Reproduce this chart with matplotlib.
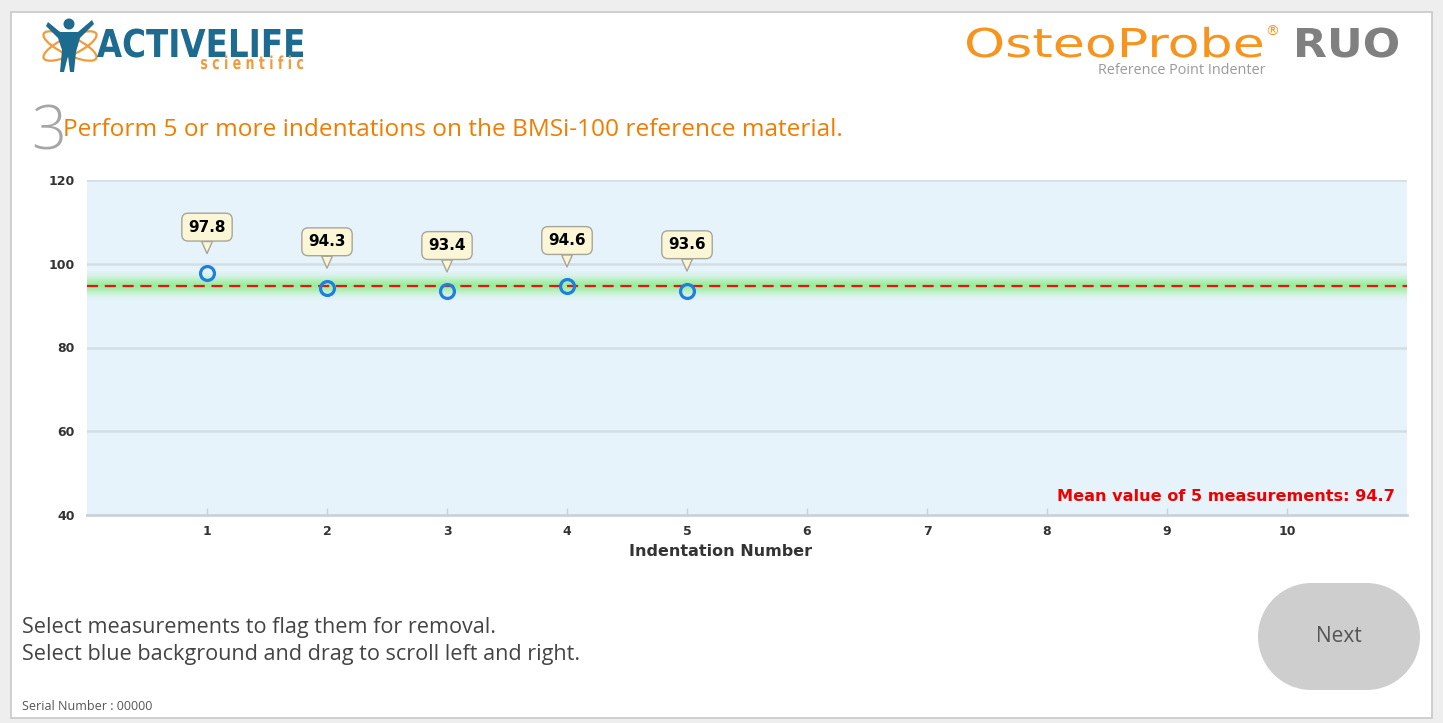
import numpy as np
import matplotlib
matplotlib.use("Agg")
import matplotlib.pyplot as plt
from matplotlib.patches import Ellipse, Circle, Polygon, Rectangle, PathPatch
from matplotlib.textpath import TextPath
from matplotlib.font_manager import FontProperties
from matplotlib.transforms import Affine2D

indentations = [1, 2, 3, 4, 5]
values = [97.8, 94.3, 93.4, 94.6, 93.6]
mean_value = 94.7
x_ticks = list(range(1, 11))
y_ticks = [40, 60, 80, 100, 120]

W, H = 1443, 723
fig = plt.figure(figsize=(W / 100, H / 100), dpi=100)
fig.patch.set_facecolor("#EEEEEE")

# full-figure axes in pixel coords for the screen furniture
bg = fig.add_axes([0, 0, 1, 1])
bg.set_xlim(0, W)
bg.set_ylim(H, 0)
bg.axis("off")
bg.add_patch(Rectangle((11, 12), 1421, 706, fc="white", ec="#C8C8C8", lw=1.2))


def fit_text(s, x0, x1, base, cap_h, color, **fp):
    # logo lettering stretched to fill the box it takes on screen
    prop = FontProperties(**fp)
    tp = TextPath((0, 0), s, size=100, prop=prop)
    bb = tp.get_extents()
    hh = TextPath((0, 0), "H", size=100, prop=prop).get_extents().height
    tr = Affine2D().translate(-bb.x0, 0).scale((x1 - x0) / bb.width, -cap_h / hh)
    tr = tr.translate(x0, base)
    bg.add_patch(PathPatch(tr.transform_path(tp), fc=color, ec="none"))


# activelife logo (rough)
for ang in (25, -25):
    bg.add_patch(Ellipse((70, 46), 58, 18, angle=ang, fc="none", ec="#F39A3A", lw=1.6))
bg.add_patch(Circle((69, 24), 5.5, fc="#1D6B8F", ec="none"))
bg.add_patch(Polygon([(48, 22), (60, 32), (78, 32), (92, 20), (94, 24), (80, 38),
                      (76, 52), (74, 72), (70, 72), (68, 56), (64, 72), (60, 72),
                      (62, 50), (58, 38), (46, 26)], closed=True, fc="#1D6B8F", ec="none"))
fit_text("ACTIVELIFE", 97, 303, 57, 28, "#1D6B8F", family="DejaVu Sans", weight="heavy")
fit_text("s c i e n t i f i c", 201, 303, 69, 13, "#F39A3A", family="DejaVu Sans",
         weight="bold")

# osteoprobe logo
fit_text("OsteoProbe", 967, 1262, 57, 29, "#F7941D", family="DejaVu Sans")
bg.text(1272, 32, "®", fontsize=10, color="#F7941D", ha="center", va="center",
        family="DejaVu Sans")
fit_text("RUO", 1297, 1398, 57, 29, "#808080", family="DejaVu Sans", weight="bold")
bg.text(1182, 70, "Reference Point Indenter", fontsize=10.4, color="#9A9A9A",
        ha="center", va="center", family="Open Sans")

# step title
bg.text(31, 150, "3", fontsize=44, fontweight="light", color="#A6A6A6", ha="left",
        va="baseline", family="Open Sans")
bg.text(63, 136, "Perform 5 or more indentations on the BMSi-100 reference material.",
        fontsize=17.6, color="#F07D00", ha="left", va="baseline", family="Open Sans")

# bottom instructions
bg.text(22, 633, "Select measurements to flag them for removal.", fontsize=15.6,
        color="#444444", ha="left", va="baseline", family="Open Sans")
bg.text(22, 660, "Select blue background and drag to scroll left and right.",
        fontsize=15.6, color="#444444", ha="left", va="baseline", family="Open Sans")
bg.text(22, 707, "Serial Number : 00000", fontsize=9, color="#555555", ha="left",
        va="center", family="Open Sans")

# next button
bg.add_patch(Rectangle((1311.5, 583), 55, 107, fc="#CFCECE", ec="none"))
bg.add_patch(Ellipse((1311.5, 636.5), 107, 107, fc="#CFCECE", ec="none"))
bg.add_patch(Ellipse((1366.5, 636.5), 107, 107, fc="#CFCECE", ec="none"))
bg.text(1339, 637, "Next", fontsize=15, color="#555555", ha="center", va="center",
        family="Open Sans")

# the chart
ax = fig.add_axes([87 / W, (H - 515) / H, 1320 / W, 335 / H])
ax.set_facecolor("#E6F3FA")
ax.set_xlim(0, 11)
ax.set_ylim(40, 120)

# green band around mean
yy = np.linspace(-1, 1, 200)
band = np.zeros((200, 2, 4))
band[..., 0] = 0.55
band[..., 1] = 0.93
band[..., 2] = 0.55
band[..., 3] = (np.exp(-(yy / 0.55) ** 2) * 0.85)[:, None]
ax.imshow(band, extent=[0, 11, mean_value - 3.4, mean_value + 3.4], aspect="auto",
          origin="lower", zorder=1, interpolation="bilinear")

for yv in y_ticks:
    ax.axhline(yv, color="#D3DDE4", lw=1.8, zorder=0.5)
ax.axhline(mean_value, color="#EE1111", lw=1.6, ls=(0, (5, 3)), zorder=2)

ax.plot(indentations, values, ls="none", marker="o", ms=10, mfc="none",
        mec="#1E7FE0", mew=2.3, zorder=3)

for xi, v in zip(indentations, values):
    ax.annotate(f"{v:.1f}", xy=(xi, v), xytext=(0, 33), textcoords="offset points",
                ha="center", va="center", fontsize=11, fontweight="bold",
                color="black", family="DejaVu Sans", zorder=4,
                bbox=dict(boxstyle="round,pad=0.42", fc="#FBF6D6", ec="#A8A69A", lw=1),
                arrowprops=dict(arrowstyle="wedge,tail_width=0.7,shrink_factor=0.5",
                                fc="#FBF6D6", ec="#A8A69A", lw=1, shrinkA=0, shrinkB=14))

ax.text(10.9, 44.5, f"Mean value of {len(values)} measurements: {mean_value}",
        ha="right", va="center", fontsize=11.6, fontweight="bold", color="#EE0000",
        family="DejaVu Sans", zorder=5)

for s in ("top", "right", "left"):
    ax.spines[s].set_visible(False)
ax.spines["bottom"].set_color("#C9D3DA")
ax.spines["bottom"].set_linewidth(2)
ax.set_xticks(x_ticks)
ax.set_yticks(y_ticks)
ax.tick_params(axis="x", direction="in", length=5, width=1, color="#C9D3DA",
               labelsize=9, labelcolor="#333333", pad=7)
ax.tick_params(axis="y", length=0, labelsize=9, labelcolor="#333333", pad=9)
for lab in ax.get_xticklabels() + ax.get_yticklabels():
    lab.set_fontweight("bold")
    lab.set_family("DejaVu Sans")

bg.text(721, 552, "Indentation Number", fontsize=11.5, fontweight="bold",
        color="#333333", ha="center", va="center", family="DejaVu Sans")

fig.savefig("out.png", dpi=100, facecolor=fig.get_facecolor())
